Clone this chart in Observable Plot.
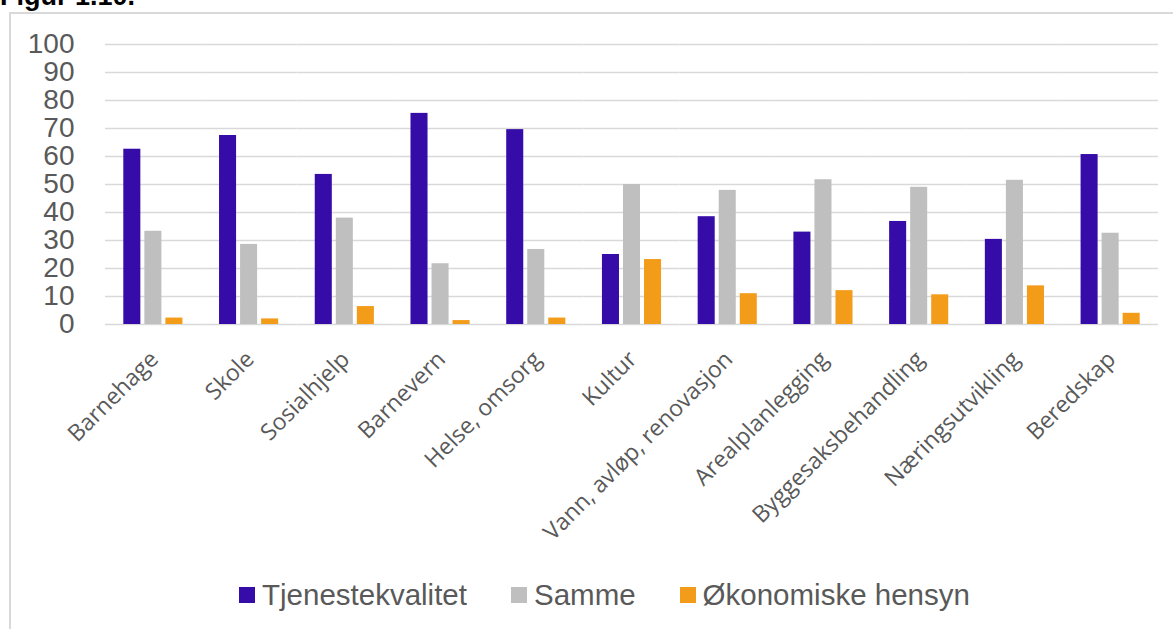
<!DOCTYPE html>
<html>
<head>
<meta charset="utf-8">
<script src="https://cdn.jsdelivr.net/npm/d3@7"></script>
<script src="https://cdn.jsdelivr.net/npm/@observablehq/plot@0.6"></script>
<style>
  html, body { margin: 0; padding: 0; background: #fff; width: 1173px; height: 629px; overflow: hidden; }
  #wrap { position: relative; width: 1173px; height: 629px; }
  #title { position: absolute; left: 0; top: -19px; font-family: "Liberation Sans Narrow", "Liberation Sans", sans-serif; font-weight: bold; font-size: 27px; color: #000; }
  #frame { position: absolute; left: 9px; top: 12px; width: 1200px; height: 700px; border: 2px solid #d9d9d9; box-sizing: border-box; }
  #chart { position: absolute; left: 0; top: 0; }
  #legend { position: absolute; left: 239px; top: 578px; display: flex; align-items: center; font-family: "Liberation Sans Narrow", "Liberation Sans", sans-serif; font-size: 29.5px; color: #595959; white-space: nowrap; }
  #legend .item { display: flex; align-items: center; margin-right: 44px; }
  #legend .sw { width: 16px; height: 16px; margin-right: 7px; }
  g[aria-label="y-axis tick label"] text { font-family: "Liberation Sans Narrow", "Liberation Sans", sans-serif; }
  g[aria-label="fx-axis tick label"] text { font-family: "Open Sans", sans-serif; }
</style>
</head>
<body>
<div id="wrap">
  <div id="frame"></div>
  <div id="title">Figur 1.10.</div>
  <div id="chart"></div>
  <div id="legend"></div>
</div>
<script>
const categories = ["Barnehage", "Skole", "Sosialhjelp", "Barnevern", "Helse, omsorg", "Kultur",
  "Vann, avløp, renovasjon", "Arealplanlegging", "Byggesaksbehandling", "Næringsutvikling", "Beredskap"];
const seriesNames = ["Tjenestekvalitet", "Samme", "Økonomiske hensyn"];
const tjenestekvalitet = [62.6, 67.5, 53.6, 75.4, 69.6, 25.0, 38.5, 33.0, 36.8, 30.4, 60.7];
const samme = [33.3, 28.6, 38.0, 21.7, 26.8, 50.0, 47.9, 51.7, 49.0, 51.5, 32.6];
const okonomiske = [2.3, 2.0, 6.4, 1.4, 2.3, 23.2, 11.0, 12.1, 10.6, 13.8, 4.0];
const colors = ["#360ca8", "#bfbfbf", "#f39c1a"];
const yTicks = [0, 10, 20, 30, 40, 50, 60, 70, 80, 90, 100];

const seriesValues = [tjenestekvalitet, samme, okonomiske];
const data = categories.flatMap((cat, i) =>
  seriesNames.map((s, j) => ({cat, series: s, value: seriesValues[j][i]})));

const chart = Plot.plot({
  width: 1173,
  height: 560,
  marginLeft: 105,
  marginRight: 15,
  marginTop: 44,
  marginBottom: 236,
  style: {background: "transparent", overflow: "visible"},
  fx: {domain: categories, paddingInner: 0, paddingOuter: 0, round: false, label: null, axis: null},
  x: {domain: seriesNames, paddingInner: 0.19, paddingOuter: 0.87, round: false, axis: null},
  y: {domain: [0, 100], axis: null},
  color: {domain: seriesNames, range: colors},
  marks: [
    Plot.ruleY(yTicks, {stroke: "#d9d9d9", strokeWidth: 1.5}),
    Plot.barY(data, {fx: "cat", x: "series", y: "value", fill: "series"}),
    Plot.axisY({ticks: yTicks, tickSize: 0, tickPadding: 31, fontSize: 28, label: null, fill: "#595959"}),
    Plot.axisFx({anchor: "bottom", tickRotate: -45, tickSize: 0, tickPadding: 31, dx: 1, fontSize: 23, label: null, fill: "#595959"})
  ]
});
document.getElementById("chart").appendChild(chart);

const legend = document.getElementById("legend");
seriesNames.forEach((s, j) => {
  const item = document.createElement("div");
  item.className = "item";
  const sw = document.createElement("span");
  sw.className = "sw";
  sw.style.background = colors[j];
  const t = document.createElement("span");
  t.textContent = s;
  item.appendChild(sw);
  item.appendChild(t);
  legend.appendChild(item);
});
</script>
</body>
</html>
